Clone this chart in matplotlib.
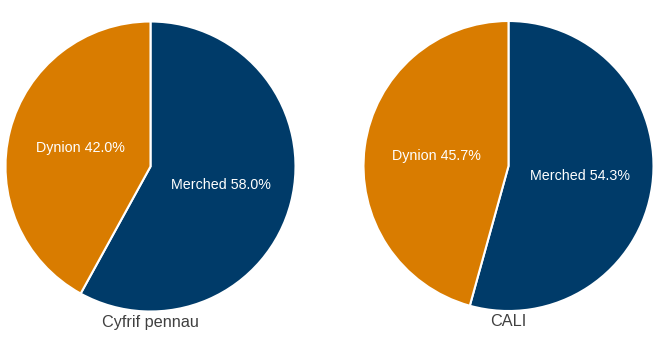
import matplotlib
matplotlib.use("Agg")
import matplotlib.pyplot as plt

# Gender split, two measures
categories = ["Merched", "Dynion"]
headcount = [58.0, 42.0]
fte = [54.3, 45.7]
titles = ["Cyfrif pennau", "CALI"]

COLORS = ["#003b69", "#d97c00"]

plt.rcParams["font.family"] = ["Liberation Sans", "DejaVu Sans"]

W, H = 661, 351
fig = plt.figure(figsize=(W / 100, H / 100), dpi=100)

centers = [(150.5, 166.5), (508.5, 166.0)]
R = 145

for (cx, cy), vals, title in zip(centers, [headcount, fte], titles):
    ax = fig.add_axes([(cx - R) / W, (H - cy - R) / H, 2 * R / W, 2 * R / H])
    labels = [f"{c} {v:.1f}%" for c, v in zip(categories, vals)]
    wedges, texts = ax.pie(
        vals, labels=labels, colors=COLORS, startangle=90, counterclock=False,
        labeldistance=0.5, wedgeprops=dict(edgecolor="white", linewidth=1.5),
        textprops=dict(color="white", fontsize=10.3),
    )
    for t in texts:
        t.set_ha("center")
        t.set_va("center")
    ax.set_xlim(-1, 1)
    ax.set_ylim(-1, 1)
    ax.set_aspect("equal")
    fig.text(cx / W, (H - 322) / H, title, ha="center", va="center",
             fontsize=11.7, color="#404040")

plt.savefig("out.png", dpi=100)
